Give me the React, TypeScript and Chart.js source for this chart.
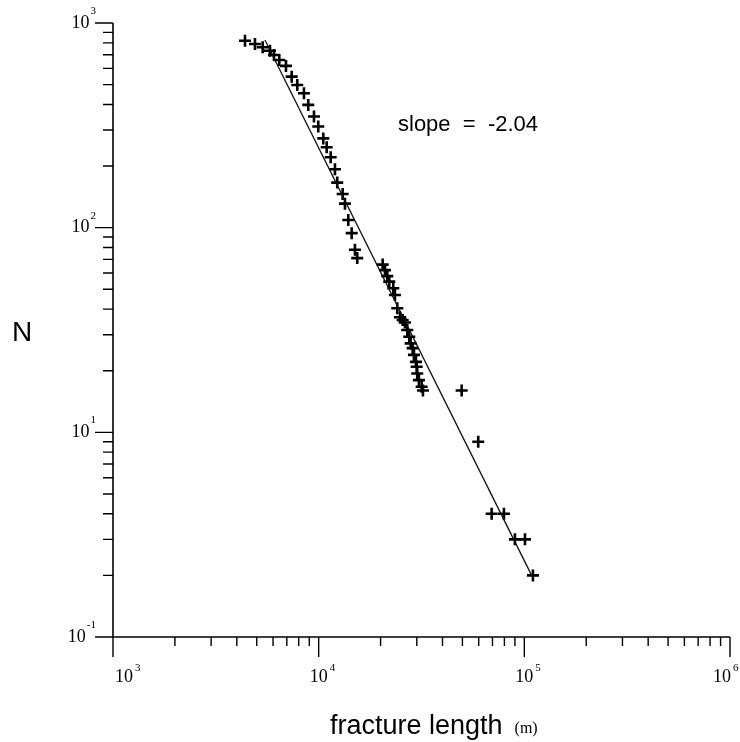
import React, { useEffect, useRef } from "react";
import { Chart, registerables } from "chart.js";

Chart.register(...registerables);

// Fracture lengths (m) and cumulative number N
const fractureLengths = [
  4383, 4901, 5344, 5799, 6063, 6434, 6935, 7392, 7870, 8483,
  8901, 9489, 9956, 10530, 10940, 11440, 12000, 12310, 13080, 13420,
  13930, 14470, 15010, 15400,
  20470, 21010, 21560, 22040, 23050, 23490, 24110, 24850, 25610, 26280,
  26960, 27570, 28010, 28640, 29060, 29720, 29950, 30150, 30720, 31670, 32140,
  49570, 59690, 69350, 79580, 90010, 100700, 110100,
];
const cumulativeN = [
  819, 790, 761, 732, 698, 660, 617, 547, 498, 454,
  398, 349, 312, 273, 247, 221, 193, 166, 146, 131,
  109, 94, 78, 71,
  66, 62, 58, 54.5, 50.6, 46.9, 40.4, 36.5, 35.4, 34.4,
  31.6, 29.3, 27.2, 25.8, 23.9, 22.1, 20.9, 19.4, 18, 16.7, 16,
  16, 9, 4, 4, 3, 3, 2,
];

// Fitted power-law line (end points)
const fitLengths = [5480, 110200];
const fitN = [826, 1.94];

const slopeLabel = "slope  =  -2.04";
const xTitle = "fracture length";
const xUnit = "(m)";
const yTitle = "N";

const xMajorTicks = [1e3, 1e4, 1e5, 1e6];
const xMajorExponents = ["3", "4", "5", "6"];
const yMajorTicks = [1, 10, 100, 1000];
const yMajorExponents = ["-1", "1", "2", "3"];

const X_MIN = 1e3;
const X_MAX = 1e6;
const Y_MIN = 1;
const Y_MAX = 1e3;

const axesPlugin = {
  id: "paperAxes",
  afterDraw(chart: any) {
    const ctx = chart.ctx;
    const xs = chart.scales.x;
    const ys = chart.scales.y;
    const x0 = xs.getPixelForValue(X_MIN);
    const x1 = xs.getPixelForValue(X_MAX);
    const y0 = ys.getPixelForValue(Y_MIN);
    const y1 = ys.getPixelForValue(Y_MAX);
    ctx.save();
    ctx.strokeStyle = "#000";
    ctx.fillStyle = "#000";
    ctx.lineWidth = 1.6;
    // axis lines
    ctx.beginPath();
    ctx.moveTo(x0, y1);
    ctx.lineTo(x0, y0);
    ctx.lineTo(x1, y0);
    ctx.stroke();

    ctx.lineWidth = 1.4;
    // x ticks
    ctx.beginPath();
    for (let d = 3; d < 6; d++) {
      for (let m = 2; m <= 9; m++) {
        const px = xs.getPixelForValue(m * Math.pow(10, d));
        ctx.moveTo(px, y0);
        ctx.lineTo(px, y0 + 9);
      }
    }
    xMajorTicks.forEach((v) => {
      const px = xs.getPixelForValue(v);
      ctx.moveTo(px, y0);
      ctx.lineTo(px, y0 + 20);
    });
    // y ticks
    for (let d = 0; d < 3; d++) {
      for (let m = 2; m <= 9; m++) {
        const py = ys.getPixelForValue(m * Math.pow(10, d));
        ctx.moveTo(x0, py);
        ctx.lineTo(x0 - 10, py);
      }
    }
    yMajorTicks.forEach((v) => {
      const py = ys.getPixelForValue(v);
      ctx.moveTo(x0, py);
      ctx.lineTo(x0 - 18, py);
    });
    ctx.stroke();

    const baseFont = "18px 'Liberation Serif', 'DejaVu Serif', serif";
    const expFont = "11px 'Liberation Serif', 'DejaVu Serif', serif";

    // x labels
    xMajorTicks.forEach((v, i) => {
      let px = xs.getPixelForValue(v);
      if (i === 0) px += 11;
      if (i === xMajorTicks.length - 1) px -= 8;
      ctx.font = baseFont;
      ctx.textAlign = "center";
      ctx.textBaseline = "middle";
      ctx.fillText("10", px, y0 + 40);
      const w = ctx.measureText("10").width;
      ctx.font = expFont;
      ctx.textAlign = "left";
      ctx.fillText(xMajorExponents[i], px + w / 2 + 2, y0 + 31);
    });

    // y labels
    yMajorTicks.forEach((v, i) => {
      const py = ys.getPixelForValue(v);
      ctx.font = expFont;
      ctx.textAlign = "right";
      ctx.textBaseline = "middle";
      const expRight = x0 - 17;
      ctx.fillText(yMajorExponents[i], expRight, py - 12);
      const ew = ctx.measureText(yMajorExponents[i]).width;
      ctx.font = baseFont;
      ctx.fillText("10", expRight - ew - 1, py);
    });

    // axis titles
    ctx.font = "28px 'Liberation Sans', Arial, sans-serif";
    ctx.textAlign = "center";
    ctx.textBaseline = "middle";
    ctx.fillText(yTitle, 22, 333);

    ctx.font = "27px 'Liberation Sans', Arial, sans-serif";
    ctx.textAlign = "left";
    ctx.textBaseline = "alphabetic";
    ctx.fillText(xTitle, 330, 734);
    const tw = ctx.measureText(xTitle).width;
    ctx.font = "16px 'Liberation Serif', 'DejaVu Serif', serif";
    ctx.fillText(xUnit, 330 + tw + 12, 733);

    // slope annotation
    ctx.font = "22px 'Liberation Sans', Arial, sans-serif";
    ctx.textAlign = "left";
    ctx.textBaseline = "alphabetic";
    ctx.fillText(slopeLabel, 398, 131);
    ctx.restore();
  },
};

export default function App() {
  const canvasRef = useRef<HTMLCanvasElement | null>(null);

  useEffect(() => {
    const canvas = canvasRef.current;
    if (!canvas) return;
    const chart = new Chart(canvas, {
      type: "scatter",
      data: {
        datasets: [
          {
            type: "line",
            label: "fit",
            data: fitLengths.map((x, i) => ({ x, y: fitN[i] })),
            borderColor: "#111",
            borderWidth: 1.3,
            pointRadius: 0,
            fill: false,
            tension: 0,
          } as any,
          {
            type: "scatter",
            label: "data",
            data: fractureLengths.map((x, i) => ({ x, y: cumulativeN[i] })),
            pointStyle: "cross",
            pointRadius: 6,
            pointBorderWidth: 2.6,
            borderColor: "#000",
            backgroundColor: "#000",
          } as any,
        ],
      },
      options: {
        responsive: false,
        animation: false,
        events: [],
        layout: { padding: { left: 113, right: 10, top: 23, bottom: 105 } },
        plugins: {
          legend: { display: false },
          tooltip: { enabled: false },
          title: { display: false },
        },
        scales: {
          x: { type: "logarithmic", min: X_MIN, max: X_MAX, display: false },
          y: { type: "logarithmic", min: Y_MIN, max: Y_MAX, display: false },
        },
      },
      plugins: [axesPlugin],
    });
    return () => chart.destroy();
  }, []);

  return (
    <div style={{ position: "absolute", left: 0, top: 0, width: 740, height: 742, background: "#fff" }}>
      <canvas ref={canvasRef} width={740} height={742} style={{ display: "block" }} />
    </div>
  );
}
